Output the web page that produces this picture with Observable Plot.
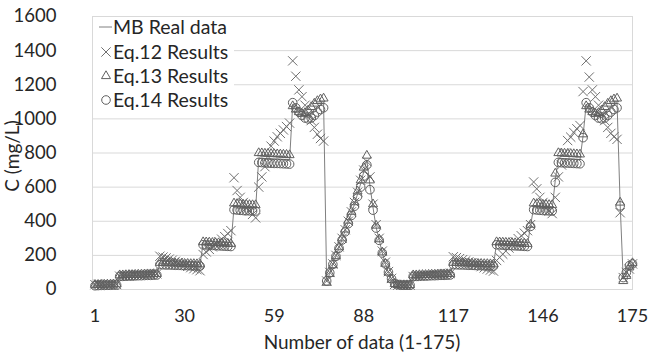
<!DOCTYPE html>
<html>
<head>
<meta charset="utf-8">
<script src="https://cdn.jsdelivr.net/npm/d3@7"></script>
<script src="https://cdn.jsdelivr.net/npm/@observablehq/plot@0.6"></script>
<style>
  html, body { margin: 0; padding: 0; background: #fff; }
  #chart { width: 649px; height: 356px; }
</style>
</head>
<body>
<div id="chart"></div>
<script>
const xTicks = [1, 30, 59, 88, 117, 146, 175];
const yTicks = [0, 200, 400, 600, 800, 1000, 1200, 1400, 1600];
const seriesNames = ["MB Real data", "Eq.12 Results", "Eq.13 Results", "Eq.14 Results"];

const realData = [
  24,25,26,26,27,27,28,28,
  80,80,81,82,82,83,84,84,85,86,86,87,88,
  152,151,150,150,149,148,148,147,146,146,145,145,144,143,
  272,271,270,268,267,266,265,264,263,262,
  480,478,476,475,474,473,472,472,
  770,770,768,767,766,765,765,764,763,762,760,
  1085,1060,1040,1025,1015,1010,1020,1040,1060,1080,1095,
  45,95,145,195,245,295,345,395,445,500,560,620,690,760,610,480,365,290,215,150,100,60,
  35,27,25,25,25,25,
  80,80,81,82,82,83,84,84,85,86,86,87,88,
  152,151,150,150,149,148,148,147,146,146,145,145,144,143,
  272,271,270,269,268,267,266,265,264,263,262,
  375,
  480,478,476,475,474,473,472,
  640,
  770,768,767,766,765,764,763,762,
  900,
  1085,1060,1040,1025,1015,1010,1020,1040,1060,1080,1095,
  500,
  60,90,130,150
];

const eq12 = [
  28,30,27,25,30,28,26,29,
  78,79,80,81,82,84,85,86,87,88,90,91,92,
  195,190,185,178,172,165,158,150,143,136,128,122,116,110,
  205,220,235,250,265,280,295,310,328,345,
  655,580,540,510,480,460,440,420,
  600,660,720,780,840,870,895,915,935,955,975,
  1340,1250,1170,1130,1080,1030,990,950,910,885,870,
  50,100,150,200,250,300,350,400,455,510,570,640,700,750,660,500,380,300,225,160,105,65,
  30,25,25,25,25,25,
  76,78,79,80,82,83,84,86,87,88,90,92,94,
  192,187,181,175,168,162,155,148,141,134,127,120,114,108,
  170,188,207,225,243,262,280,298,315,330,345,
  380,
  630,590,540,510,480,460,445,
  540,
  660,730,800,873,893,920,942,961,
  1160,
  1340,1245,1170,1130,1080,1030,990,950,915,895,880,
  450,
  70,100,120,150
];

const eq13 = [
  28,28,29,29,30,30,31,31,
  84,84,85,86,86,87,88,88,89,90,90,91,92,
  157,156,155,155,154,153,153,152,151,151,150,150,149,148,
  278,277,276,274,273,272,271,270,269,268,
  505,502,500,498,497,496,495,495,
  800,799,797,796,795,794,793,792,791,790,788,
  1075,1055,1040,1030,1035,1050,1070,1090,1105,1115,1120,
  40,92,143,196,248,300,352,404,456,512,575,640,715,785,640,500,375,295,218,152,100,58,
  33,27,26,26,26,26,
  84,84,85,86,86,87,88,88,89,90,90,91,92,
  157,156,155,155,154,153,153,152,151,151,150,150,149,148,
  278,277,276,275,274,273,272,271,270,269,268,
  380,
  505,502,500,498,497,496,495,
  680,
  800,798,797,796,795,794,793,792,
  910,
  1075,1055,1040,1030,1035,1050,1070,1090,1105,1115,1120,
  510,
  50,80,130,155
];

const eq14 = [
  22,23,24,24,25,25,26,26,
  77,77,78,79,79,80,81,81,82,83,83,84,85,
  146,145,144,144,143,142,142,141,140,140,139,139,138,137,
  262,261,260,258,257,256,255,254,253,252,
  468,466,464,463,462,461,460,460,
  745,744,742,741,740,739,739,738,737,736,735,
  1095,1065,1040,1020,1005,1000,1005,1020,1040,1055,1065,
  50,98,147,194,242,290,338,386,434,488,545,600,665,730,585,465,360,288,214,150,102,63,
  36,28,25,25,25,25,
  77,77,78,79,79,80,81,81,82,83,83,84,85,
  146,145,144,144,143,142,142,141,140,140,139,139,138,137,
  262,261,260,259,258,257,256,255,254,253,252,
  370,
  468,466,464,463,462,461,460,
  628,
  745,743,742,741,740,739,738,737,
  890,
  1095,1065,1040,1020,1005,1000,1005,1020,1040,1055,1065,
  490,
  70,100,140,150
];

const rows = realData.map((v, k) => ({i: k + 1, real: v, e12: eq12[k], e13: eq13[k], e14: eq14[k]}));

const FONT = "Lato, 'Open Sans', sans-serif";
const lineColor = "#808080";
const xColor = "#707070";
const mColor = "#606060";

const chart = Plot.plot({
  width: 649,
  height: 356,
  marginLeft: 92,
  marginRight: 17,
  marginTop: 16,
  marginBottom: 67,
  style: {fontFamily: FONT, fontSize: "18.5px", color: "#262626", background: "#fff"},
  x: {domain: [1, 175], insetLeft: 2.5},
  y: {domain: [0, 1600]},
  marks: [
    Plot.gridY(yTicks, {stroke: "#d9d9d9", strokeOpacity: 1}),
    Plot.frame({stroke: "#d9d9d9"}),
    Plot.axisY(yTicks, {tickSize: 0, tickPadding: 36, fontSize: 18.5, fill: "#262626", label: null, tickFormat: d => String(d)}),
    Plot.axisX(xTicks, {tickSize: 0, tickPadding: 20, fontSize: 18, fill: "#262626", label: null, tickFormat: d => String(d)}),
    Plot.line(rows, {x: "i", y: "real", stroke: lineColor, strokeWidth: 1}),
    Plot.dot(rows, {x: "i", y: "e12", symbol: "times", r: 4.3, stroke: xColor, strokeWidth: 1}),
    Plot.dot(rows, {x: "i", y: "e13", symbol: "triangle2", r: 4.3, stroke: mColor, strokeWidth: 1}),
    Plot.dot(rows, {x: "i", y: "e14", symbol: "circle", r: 4.3, stroke: mColor, strokeWidth: 1, fill: "none"})
  ]
});

document.getElementById("chart").appendChild(chart);

const svg = d3.select(chart);
// axis titles
svg.append("text")
  .attr("x", 362).attr("y", 349)
  .attr("text-anchor", "middle")
  .style("font-family", FONT).style("font-size", "19px").attr("fill", "#262626")
  .text("Number of data (1-175)");
svg.append("text")
  .attr("transform", "translate(19,156) rotate(-90)")
  .attr("text-anchor", "middle")
  .style("font-family", FONT).style("font-size", "19px").attr("fill", "#262626")
  .text("C (mg/L)");

// legend
const lg = svg.append("g").attr("text-anchor", "start");
lg.append("rect").attr("x", 93).attr("y", 17).attr("width", 141).attr("height", 94).attr("fill", "#fff");
const rowsY = [27, 52, 76, 100];
seriesNames.forEach((name, k) => {
  const y = rowsY[k];
  lg.append("text").attr("x", 113).attr("y", y + 6.5)
    .attr("text-anchor", "start")
    .style("font-family", FONT).style("font-size", "19.5px").attr("fill", "#262626")
    .text(name);
});
lg.append("line").attr("x1", 99).attr("x2", 112).attr("y1", 27).attr("y2", 27)
  .attr("stroke", lineColor).attr("stroke-width", 1);
lg.append("path").attr("transform", "translate(106,52)")
  .attr("d", d3.symbol(d3.symbolTimes, Math.PI * 18.5)())
  .attr("fill", "none").attr("stroke", xColor).attr("stroke-width", 1);
lg.append("path").attr("transform", "translate(106,76)")
  .attr("d", d3.symbol(d3.symbolTriangle2, Math.PI * 18.5)())
  .attr("fill", "none").attr("stroke", mColor).attr("stroke-width", 1);
lg.append("circle").attr("cx", 106).attr("cy", 100).attr("r", 4.3)
  .attr("fill", "none").attr("stroke", mColor).attr("stroke-width", 1);
</script>
</body>
</html>
